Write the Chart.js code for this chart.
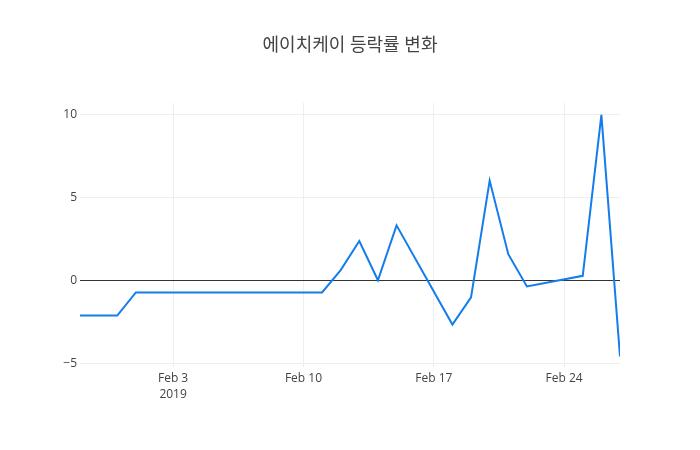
<!DOCTYPE html>
<html>
<head>
<meta charset="utf-8">
<script src="https://cdn.jsdelivr.net/npm/chart.js@4"></script>
<style>
html,body{margin:0;padding:0;background:#fff;}
#wrap{width:700px;height:450px;}
</style>
</head>
<body>
<div id="wrap"><canvas id="c" width="700" height="450"></canvas></div>
<script>
const titleText = '에이치케이 등락률 변화';
const dates = ['2019-01-29','2019-01-30','2019-01-31','2019-02-01','2019-02-07','2019-02-08','2019-02-11','2019-02-12','2019-02-13','2019-02-14','2019-02-15','2019-02-18','2019-02-19','2019-02-20','2019-02-21','2019-02-22','2019-02-25','2019-02-26','2019-02-27'];
const changes = [-2.1,-2.1,-2.1,-0.7,-0.7,-0.7,-0.7,0.64,2.4,0.03,3.34,-2.64,-1.0,6.04,1.6,-0.34,0.3,10.0,-4.56];
const xTickDates = ['2019-02-03','2019-02-10','2019-02-17','2019-02-24'];
const xTickLabels = [['Feb 3','2019'],['Feb 10'],['Feb 17'],['Feb 24']];
const yTicks = [-5,0,5,10];
const xStart = '2019-01-29';
const xEnd = '2019-02-27';

const DAY = 86400000;
const base = Date.parse(xStart + 'T00:00:00Z');
const toDay = s => (Date.parse(s + 'T00:00:00Z') - base) / DAY;
const points = dates.map((d,i) => ({x: toDay(d), y: changes[i]}));
const xTickVals = xTickDates.map(toDay);

const FONT = "'Open Sans', 'Noto Sans CJK KR', sans-serif";

new Chart(document.getElementById('c'), {
  type: 'line',
  data: {
    datasets: [{
      data: points,
      borderColor: 'rgb(20,125,235)',
      borderWidth: 2,
      pointRadius: 0,
      fill: false,
      tension: 0
    }]
  },
  options: {
    responsive: false,
    animation: false,
    layout: {padding: 0},
    plugins: {
      legend: {display: false},
      tooltip: {enabled: false},
      title: {
        display: true,
        text: titleText,
        color: '#444',
        font: {family: FONT, size: 18, weight: 'normal', lineHeight: 1.2},
        padding: {top: 35, bottom: 46.4}
      }
    },
    scales: {
      x: {
        type: 'linear',
        min: toDay(xStart),
        max: toDay(xEnd),
        afterBuildTicks: s => { s.ticks = xTickVals.map(v => ({value: v})); },
        afterFit: s => { s.height = 83; },
        ticks: {
          autoSkip: false,
          maxRotation: 0,
          color: '#444',
          font: {family: FONT, size: 12, lineHeight: 1.35},
          padding: 3,
          callback: (v) => { const i = xTickVals.indexOf(v); return i >= 0 ? xTickLabels[i] : ''; }
        },
        grid: {color: '#eee', drawTicks: false},
        border: {display: false}
      },
      y: {
        min: -5.2,
        max: 10.72,
        afterBuildTicks: s => { s.ticks = yTicks.map(v => ({value: v})); },
        afterFit: s => { s.width = 80; },
        ticks: {
          color: '#444',
          font: {family: FONT, size: 12},
          padding: 3,
          callback: v => (v < 0 ? '\u2212' + Math.abs(v) : String(v))
        },
        grid: {
          drawTicks: false,
          color: ctx => (ctx.tick && ctx.tick.value === 0 ? '#333' : '#eee'),
          lineWidth: 1
        },
        border: {display: false}
      },
      yRight: {
        position: 'right',
        display: true,
        min: -5.2,
        max: 10.72,
        afterBuildTicks: s => { s.ticks = []; },
        afterFit: s => { s.width = 80; },
        ticks: {display: false},
        grid: {display: false, drawTicks: false},
        border: {display: false}
      }
    }
  }
});
</script>
</body>
</html>
